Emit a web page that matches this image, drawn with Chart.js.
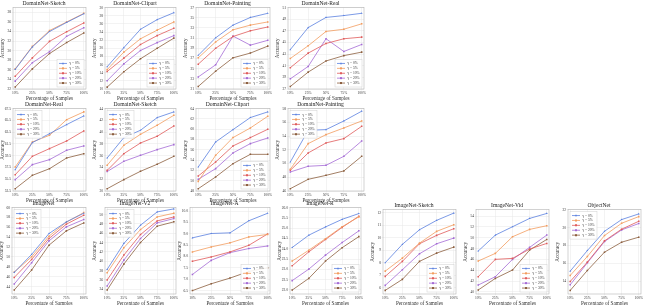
<!DOCTYPE html>
<html>
<head>
<meta charset="utf-8">
<script src="https://cdn.jsdelivr.net/npm/chart.js@4.4.0/dist/chart.umd.min.js"></script>
<style>
    html, body { margin: 0; padding: 0; background: #fff; }
    body { width: 647px; height: 305px; position: relative; overflow: hidden; }
    canvas { position: absolute; }
</style>
</head>
<body>
<script>
const categories = ['10%', '25%', '50%', '75%', '100%'];
const gammaLabels = ['γ = 0%', 'γ = 5%', 'γ = 10%', 'γ = 20%', 'γ = 30%'];
const colors = ['#5b80df', '#f39c5e', '#df5b5b', '#a46bd5', '#8c5e3e'];
const markers = ['triangle', 'rect', 'rect', 'rect', 'rect'];

// one row per gamma, one value per sample percentage
const dnSketchA = [
    [26.1, 30.8, 34.0, 35.9, 37.7],
    [26.2, 30.9, 34.2, 36.0, 37.8],
    [24.65, 28.5, 31.95, 33.95, 35.8],
    [23.65, 27.5, 29.8, 33.0, 34.8],
    [22.4, 26.2, 29.4, 31.7, 33.7]
];
const dnClipartA = [
    [15.46, 20.16, 24.68, 27.04, 28.75],
    [14.76, 19.06, 22.34, 24.46, 26.48],
    [14.3, 17.58, 20.94, 23.12, 24.92],
    [12.04, 16.18, 19.46, 21.4, 23.12],
    [10.46, 14.22, 17.42, 20.0, 22.5]
];
const dnPaintingA = [
    [27.62, 31.06, 33.56, 35.06, 35.88],
    [27.13, 30.25, 32.63, 33.56, 34.18],
    [25.88, 29.0, 31.32, 32.44, 33.19],
    [23.37, 25.75, 31.4, 29.62, 30.57],
    [21.5, 24.5, 27.13, 28.06, 29.43]
];
const dnRealA = [
    [43.78, 47.56, 49.31, 49.63, 50.02],
    [42.25, 44.43, 46.9, 47.28, 48.21],
    [40.67, 43.17, 44.83, 45.64, 45.92],
    [38.75, 40.88, 45.64, 43.45, 44.66],
    [37.43, 39.9, 41.82, 42.74, 43.34]
];
const dnRealB = [
    [57.13, 61.72, 63.24, 64.78, 66.25],
    [57.57, 61.83, 62.96, 65.62, 66.94],
    [56.27, 59.39, 60.7, 62.0, 63.71],
    [55.43, 57.98, 58.83, 60.42, 61.16],
    [53.89, 56.16, 57.29, 59.11, 59.84]
];
const dnSketchB = [
    [35.61, 39.07, 40.32, 42.47, 43.44],
    [34.37, 37.77, 39.63, 41.17, 42.87],
    [33.5, 36.34, 38.16, 39.3, 41.05],
    [33.3, 35.04, 36.06, 37.03, 37.88],
    [30.39, 31.93, 33.35, 34.54, 35.89]
];
const dnClipartB = [
    [52.66, 57.52, 59.92, 62.26, 63.36],
    [49.87, 54.93, 58.37, 60.24, 62.51],
    [50.91, 53.63, 56.75, 58.37, 59.98],
    [50.27, 52.34, 55.39, 57.2, 58.3],
    [48.45, 50.72, 53.31, 55.12, 55.12]
];
const dnPaintingB = [
    [50.22, 54.84, 54.94, 56.2, 57.62],
    [49.16, 52.9, 54.21, 55.18, 56.2],
    [49.01, 51.54, 53.0, 53.63, 55.42],
    [48.77, 49.6, 49.74, 51.05, 53.28],
    [46.34, 47.7, 48.28, 48.92, 51.05]
];
const imagenet = [
    [46.88, 50.52, 54.75, 57.11, 58.86],
    [46.95, 50.04, 54.21, 57.04, 58.99],
    [45.86, 49.5, 53.74, 56.64, 58.46],
    [44.51, 48.84, 53.26, 56.1, 57.59],
    [43.31, 47.35, 52.39, 55.29, 56.9]
];
const imagenetV2 = [
    [38.27, 43.82, 47.73, 50.58, 51.22],
    [37.55, 42.9, 46.8, 49.5, 50.3],
    [36.0, 41.33, 45.73, 48.65, 49.5],
    [34.7, 40.25, 44.88, 48.23, 49.15],
    [33.85, 39.4, 44.03, 47.52, 48.45]
];
const imagenetA = [
    [8.82, 9.01, 9.04, 9.57, 9.90],
    [8.20, 8.42, 8.60, 8.86, 8.97],
    [7.79, 7.98, 8.20, 8.49, 8.99],
    [7.21, 7.83, 8.17, 8.35, 8.46],
    [6.50, 6.80, 7.05, 7.34, 7.50]
];
const imagenetR = [
    [24.06, 24.66, 25.06, 25.43, 25.71],
    [23.4, 23.93, 24.49, 25.07, 25.55],
    [23.17, 23.85, 24.45, 25.04, 25.58],
    [22.45, 23.01, 23.69, 24.3, 24.87],
    [21.99, 22.56, 23.4, 24.05, 24.59]
];
const imagenetSketch = [
    [8.0, 9.47, 10.64, 11.39, 11.97],
    [7.33, 8.37, 9.57, 10.51, 11.04],
    [6.91, 8.11, 9.52, 10.19, 10.72],
    [6.19, 7.44, 8.72, 9.52, 9.97],
    [5.79, 6.67, 8.11, 8.77, 9.25]
];
const imagenetVid = [
    [47.54, 50.49, 52.03, 53.57, 54.49],
    [45.69, 47.11, 50.18, 51.54, 52.22],
    [42.8, 46.0, 46.18, 47.91, 48.95],
    [41.26, 42.8, 46.0, 48.22, 50.49],
    [40.34, 42.49, 44.03, 47.72, 49.69]
];
const objectnet = [
    [15.15, 17.44, 19.59, 20.89, 21.52],
    [14.67, 16.78, 19.11, 20.48, 21.22],
    [14.0, 16.15, 18.52, 19.82, 20.7],
    [13.63, 16.07, 18.44, 19.74, 20.45],
    [13.0, 15.22, 17.26, 18.37, 18.93]
];

// y range: [min, max, step]; box: plot area [left, top, width, height]
const panels = [
    { title: 'DomainNet-Sketch', data: dnSketchA, y: [22, 39, 2], legend: 'br', box: [13, 7, 75, 82] },
    { title: 'DomainNet-Clipart', data: dnClipartA, y: [10, 30, 2], legend: 'br', box: [105, 7, 73, 82] },
    { title: 'DomainNet-Painting', data: dnPaintingA, y: [21, 37, 2], legend: 'br', box: [196, 7, 76, 82] },
    { title: 'DomainNet-Real', data: dnRealA, y: [37, 51, 2], legend: 'br', box: [288, 7, 78, 82] },
    { title: 'DomainNet-Real', data: dnRealB, y: [53.5, 67.5, 2], legend: 'tl', box: [13, 108, 75, 83] },
    { title: 'DomainNet-Sketch', data: dnSketchB, y: [30, 44, 2], legend: 'tl', box: [105, 108, 73, 83] },
    { title: 'DomainNet-Clipart', data: dnClipartB, y: [48, 64, 2], legend: 'br', box: [196, 108, 76, 83] },
    { title: 'DomainNet-Painting', data: dnPaintingB, y: [46, 58, 2], legend: 'tl', box: [288, 108, 78, 83] },
    { title: 'ImageNet', data: imagenet, y: [42.5, 60, 2], legend: 'tl', box: [12, 207, 76, 87] },
    { title: 'ImageNet-V2', data: imagenetV2, y: [33, 51.5, 2], legend: 'tl', box: [105, 207, 73, 87] },
    { title: 'ImageNet-A', data: imagenetA, y: [6.35, 10.15, 0.5], legend: 'br', box: [190, 207, 82, 87] },
    { title: 'ImageNet-R', data: imagenetR, y: [21.8, 26.0, 0.5], legend: 'br', box: [290, 207, 73, 87] },
    { title: 'ImageNet-Sketch', data: imagenetSketch, y: [5.5, 12.25, 1], legend: 'br', box: [383, 209, 75, 85] },
    { title: 'ImageNet-Vid', data: imagenetVid, y: [39.6, 55.2, 2], legend: 'br', box: [476, 209, 75, 85] },
    { title: 'ObjectNet', data: objectnet, y: [12.6, 22, 2], legend: 'tl', box: [568, 209, 75, 85] }
];

Chart.defaults.font.family = '"Liberation Serif", "DejaVu Serif", serif';
Chart.defaults.color = '#333';

const Y_AXIS_W = 13, X_AXIS_H = 12, TITLE_H = 7, RIGHT_PAD = 2;

function drawMarker(ctx, style, x, y, r) {
    ctx.beginPath();
    if (style === 'triangle') {
        ctx.moveTo(x, y - r * 1.2);
        ctx.lineTo(x + r * 1.1, y + r * 0.8);
        ctx.lineTo(x - r * 1.1, y + r * 0.8);
        ctx.closePath();
    } else {
        ctx.rect(x - r, y - r, r * 2, r * 2);
    }
    ctx.fill();
}

// plot frame drawn under the lines
const frame = {
    id: 'frame',
    beforeDatasetsDraw(chart) {
        const { ctx, chartArea: a } = chart;
        ctx.save();
        ctx.strokeStyle = '#b5b5b5';
        ctx.lineWidth = 0.6;
        ctx.strokeRect(a.left, a.top, a.right - a.left, a.bottom - a.top);
        ctx.restore();
    }
};

// boxed legend inside the plot, top-left or bottom-right
const boxLegend = {
    id: 'boxLegend',
    afterDatasetsDraw(chart, args, opts) {
        const { ctx, chartArea: a } = chart;
        const sets = chart.data.datasets;
        ctx.save();
        ctx.font = '3.6px "Liberation Serif", serif';
        const rowH = 4.9;
        let tw = 0;
        sets.forEach(d => { tw = Math.max(tw, ctx.measureText(d.label).width); });
        const bw = tw + 15, bh = rowH * sets.length + 3;
        const x = opts.pos === 'tl' ? a.left + 2 : a.right - bw - 2;
        const y = opts.pos === 'tl' ? a.top + 2 : a.bottom - bh - 2;
        ctx.fillStyle = 'rgba(255,255,255,0.9)';
        ctx.strokeStyle = '#d0d0d0';
        ctx.lineWidth = 0.5;
        ctx.fillRect(x, y, bw, bh);
        ctx.strokeRect(x, y, bw, bh);
        sets.forEach((d, i) => {
            const cy = y + 1.5 + rowH * (i + 0.5);
            ctx.strokeStyle = d.borderColor;
            ctx.lineWidth = 0.8;
            ctx.beginPath();
            ctx.moveTo(x + 2, cy);
            ctx.lineTo(x + 10, cy);
            ctx.stroke();
            ctx.fillStyle = d.borderColor;
            drawMarker(ctx, d.pointStyle, x + 6, cy, 1);
            ctx.fillStyle = '#333';
            ctx.textBaseline = 'middle';
            ctx.fillText(d.label, x + 12.5, cy);
        });
        ctx.restore();
    }
};

function makePanel(p) {
    const [left, top, w, h] = p.box;
    const canvas = document.createElement('canvas');
    canvas.width = w + Y_AXIS_W + RIGHT_PAD;
    canvas.height = h + TITLE_H + X_AXIS_H;
    canvas.style.left = (left - Y_AXIS_W) + 'px';
    canvas.style.top = (top - TITLE_H) + 'px';
    document.body.appendChild(canvas);

    const datasets = p.data.map((vals, i) => ({
        label: gammaLabels[i],
        data: vals.map((v, j) => ({ x: j, y: v })),
        borderColor: colors[i],
        backgroundColor: colors[i],
        pointStyle: markers[i],
        borderWidth: 0.8,
        pointRadius: 1.1,
        pointBorderWidth: 0
    }));

    new Chart(canvas, {
        type: 'line',
        data: { datasets },
        plugins: [frame, boxLegend],
        options: {
            responsive: false, animation: false,
            devicePixelRatio: 1,
            layout: { padding: { top: 0, right: RIGHT_PAD, bottom: 0, left: 0 } },
            plugins: {
                legend: { display: false },
                tooltip: { enabled: false },
                title: {
                    display: true, text: p.title, color: '#222',
                    font: { size: 5.6, weight: 'normal', lineHeight: 1 },
                    padding: { top: 0.5, bottom: 1.5 }
                },
                boxLegend: { pos: p.legend }
            },
            scales: {
                x: {
                    type: 'linear', min: -0.13, max: 4.13,
                    afterFit: s => { s.height = X_AXIS_H; },
                    afterBuildTicks: s => { s.ticks = categories.map((c, i) => ({ value: i })); },
                    grid: { color: '#e6e6e6', lineWidth: 0.5, tickLength: 1.5, drawTicks: true },
                    border: { display: false },
                    ticks: {
                        autoSkip: false, maxRotation: 0, padding: 0.5,
                        font: { size: 3.6 },
                        callback: v => categories[v] ?? ''
                    },
                    title: { display: true, text: 'Percentage of Samples', font: { size: 5.2, lineHeight: 1 }, padding: { top: 0.5, bottom: 0 } }
                },
                y: {
                    min: p.y[0], max: p.y[1],
                    afterFit: s => { s.width = Y_AXIS_W; },
                    grid: { color: '#e6e6e6', lineWidth: 0.5, tickLength: 1.5 },
                    border: { display: false },
                    ticks: { stepSize: p.y[2], includeBounds: false, padding: 0.5, font: { size: 3.6 } },
                    title: { display: true, text: 'Accuracy', font: { size: 5.2, lineHeight: 1 }, padding: { top: 0, bottom: 0.5 } }
                }
            }
        }
    });
}

panels.forEach(makePanel);
</script>
</body>
</html>
